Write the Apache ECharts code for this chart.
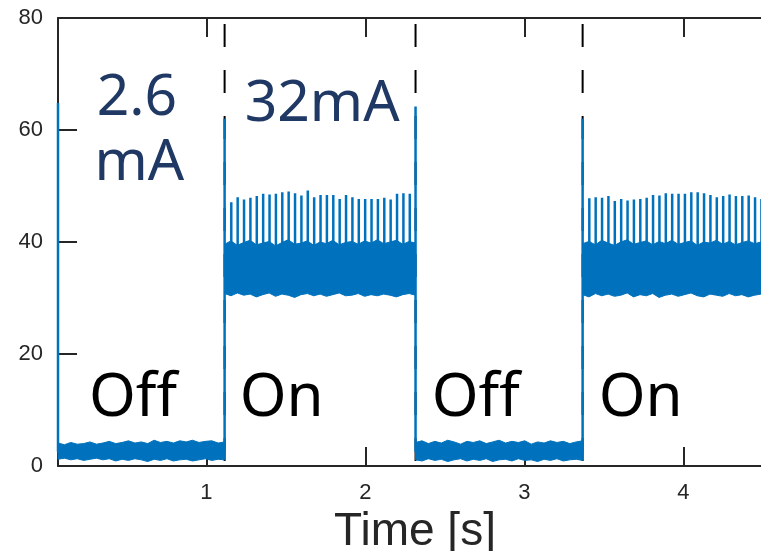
<!DOCTYPE html>
<html lang="en">
<head>
<meta charset="UTF-8">
<title>Current vs time</title>
<script src="https://cdn.jsdelivr.net/npm/echarts@6/dist/echarts.min.js"></script>
<style>
  html, body { margin: 0; padding: 0; background: #fff; }
  #main { width: 761px; height: 551px; }
</style>
</head>
<body>
<div id="main"></div>
<script>
// axis ranges and ticks
var xMin = 0.067, xMax = 4.489;
var xTicks = [1, 2, 3, 4];
var yTicks = [0, 20, 40, 60, 80];

// switching instants [s] and the spike at each switch [mA]
var switchTimes = [1.115, 2.316, 3.367];
var switchPeaks = [62, 64.2, 62];
var edgePeak = 64.8;   // switch just at the left border

// noise band edges, spread evenly over each segment
var off1Hi = [4.1, 3.8, 4.2, 3.9, 4.0, 4.3, 3.9, 4.1, 4.4, 4.0, 4.2, 4.5, 4.1, 4.3, 4.0, 4.6, 4.2, 4.4, 4.1, 4.5, 4.3, 4.6, 4.2, 4.4, 4.5, 4.1, 4.3];
var off1Lo = [1.2, 1.4, 1.1, 1.3, 1.0, 1.2, 1.4, 1.1, 1.3, 0.9, 1.2, 1.0, 1.3, 1.1, 0.8, 1.2, 1.0, 1.3, 0.9, 1.1, 1.2, 0.9, 1.1, 1.3, 1.0, 1.2, 1.1];
var on1Hi = [39.6, 40.2, 39.4, 39.9, 40.3, 39.5, 39.8, 40.1, 39.3, 39.9, 40.4, 39.6, 39.8, 40.2, 39.4, 40.0, 39.7, 40.3, 39.5, 39.9, 40.1, 39.6, 40.2, 39.8, 40.4, 39.7, 40.0, 40.3, 39.6, 40.1, 39.8];
var on1Lo = [30.8, 30.4, 30.9, 30.5, 30.7, 30.2, 30.6, 30.9, 30.3, 30.7, 30.5, 30.1, 30.6, 30.8, 30.4, 30.7, 30.3, 30.6, 30.9, 30.4, 30.5, 30.8, 30.3, 30.6, 30.4, 30.7, 30.5, 30.2, 30.6, 30.8, 30.5];
var off2Hi = [4.2, 4.5, 4.0, 4.4, 4.1, 4.6, 4.3, 3.9, 4.4, 4.2, 4.5, 4.0, 4.3, 4.6, 4.1, 4.4, 4.2, 4.5, 3.9, 4.3, 4.1, 4.5, 4.2, 4.4, 4.0, 4.3, 4.5];
var off2Lo = [1.1, 0.9, 1.3, 1.0, 1.2, 0.8, 1.1, 1.3, 0.9, 1.2, 1.0, 1.3, 0.8, 1.1, 1.2, 0.9, 1.3, 1.0, 1.1, 0.8, 1.2, 1.0, 1.3, 0.9, 1.1, 1.2, 1.0];
var on2Hi = [39.7, 40.1, 39.5, 40.3, 39.8, 39.4, 40.0, 40.4, 39.6, 39.9, 40.2, 39.5, 40.1, 39.7, 40.3, 39.6, 39.9, 40.2, 39.4, 40.0, 39.8, 40.3, 39.6, 40.1, 39.5, 39.9, 40.2, 39.7, 40.0];
var on2Lo = [30.6, 30.2, 30.8, 30.4, 30.7, 30.3, 30.5, 30.9, 30.2, 30.6, 30.4, 30.8, 30.1, 30.5, 30.7, 30.3, 30.6, 30.9, 30.4, 30.2, 30.7, 30.5, 30.3, 30.8, 30.4, 30.6, 30.2, 30.5, 30.7];

// periodic spikes while on: first spike time, period, peak heights
var spikePeriod = 0.0401;
var on1SpikeStart = 1.157;
var on1Spikes = [47.1, 48.0, 47.6, 47.9, 48.2, 48.6, 48.5, 48.6, 48.9, 49.0, 48.7, 48.3, 49.2, 48.0, 48.4, 48.4, 48.4, 47.7, 48.4, 48.0, 47.7, 47.7, 47.7, 47.7, 47.9, 47.6, 48.6, 48.7, 48.6];
var on2SpikeStart = 3.409;
var on2Spikes = [47.8, 48.0, 47.9, 48.2, 47.3, 47.7, 47.4, 47.6, 47.7, 47.9, 48.4, 48.3, 48.7, 48.6, 48.6, 48.6, 48.9, 48.9, 48.7, 48.4, 48.0, 48.2, 48.5, 48.2, 48.2, 48.3, 48.0, 47.7];

// annotations: text, x [s], y [mA]
var blueNotes = [['2.6', 0.310, 65.6], ['mA', 0.297, 54.0], ['32mA', 1.241, 64.5]];
var stateNotes = [['Off', 0.262, 12.0], ['On', 1.210, 12.0], ['Off', 2.418, 12.0], ['On', 3.468, 12.0]];

var BLUE = '#0072BD';
var AXIS = '#262626';

// one band per segment: [t0, t1, upper edge, lower edge]
var bands = [
  [xMin, switchTimes[0], off1Hi, off1Lo],
  [switchTimes[0], switchTimes[1], on1Hi, on1Lo],
  [switchTimes[1], switchTimes[2], off2Hi, off2Lo],
  [switchTimes[2], xMax, on2Hi, on2Lo]
];

function renderBand(params, api) {
  var b = bands[params.dataIndex];
  var t0 = b[0], t1 = b[1], hi = b[2], lo = b[3], n = hi.length;
  var pts = [], i, t;
  for (i = 0; i < n; i++) {
    t = t0 + (t1 - t0) * i / (n - 1);
    pts.push(api.coord([t, hi[i]]));
  }
  for (i = n - 1; i >= 0; i--) {
    t = t0 + (t1 - t0) * i / (n - 1);
    pts.push(api.coord([t, lo[i]]));
  }
  return {
    type: 'polygon',
    shape: { points: pts },
    style: { fill: BLUE, stroke: BLUE, lineWidth: 1 }
  };
}

// trace of switch edges and spikes (baseline parts hide inside the bands)
var onBase = 35, offBase = 2.6;
var trace = [[xMin, edgePeak], [xMin, offBase]];
trace.push([switchTimes[0], offBase], [switchTimes[0], switchPeaks[0]], [switchTimes[0], onBase]);
on1Spikes.forEach(function (p, i) {
  var t = on1SpikeStart + i * spikePeriod;
  trace.push([t, onBase], [t, p], [t, onBase]);
});
trace.push([switchTimes[1], onBase], [switchTimes[1], switchPeaks[1]], [switchTimes[1], offBase]);
trace.push([switchTimes[2], offBase], [switchTimes[2], switchPeaks[2]], [switchTimes[2], onBase]);
on2Spikes.forEach(function (p, i) {
  var t = on2SpikeStart + i * spikePeriod;
  trace.push([t, onBase], [t, p], [t, onBase]);
});
trace.push([xMax, onBase]);

var series = [];
switchTimes.forEach(function (t) {
  series.push({
    type: 'line', data: [[t, 80], [t, 0]], symbol: 'none', z: 1,
    lineStyle: { color: '#000', width: 2, type: [23, 23], dashOffset: 40 }
  });
});
series.push({
  type: 'custom', z: 3, silent: true,
  renderItem: renderBand,
  encode: { x: [0, 1], y: [2, 3] },
  data: bands.map(function (b) {
    return [b[0], b[1], Math.min.apply(null, b[3]), Math.max.apply(null, b[2])];
  })
});
series.push({
  type: 'line', data: trace, symbol: 'none', z: 4,
  lineStyle: { color: BLUE, width: 2.5 }
});

function noteSeries(notes, color, size, family) {
  return {
    type: 'scatter', symbolSize: 0, z: 10, silent: true,
    itemStyle: { opacity: 1 },
    data: notes.map(function (d) { return { name: d[0], value: [d[1], d[2]] }; }),
    label: {
      show: true, position: 'inside', formatter: '{b}',
      align: 'left', verticalAlign: 'middle',
      color: color, fontSize: size, fontFamily: family
    }
  };
}
series.push(noteSeries(blueNotes, '#1F3864', 57, 'Noto Sans'));
series.push(noteSeries(stateNotes, '#000000', 60, 'Noto Sans'));

var tickStyle = { color: AXIS, width: 2 };
var option = {
  animation: false,
  backgroundColor: '#ffffff',
  grid: { left: 58, right: 0, top: 18, bottom: 85, outerBoundsMode: 'none' },
  xAxis: [{
    type: 'value', min: xMin, max: xMax,
    name: 'Time [s]', nameLocation: 'middle', nameGap: 35,
    nameTextStyle: { fontSize: 46, color: AXIS, fontFamily: 'Liberation Sans', padding: [0, 0, 0, 11] },
    axisLine: { show: true, onZero: false, lineStyle: tickStyle },
    axisTick: { show: true, inside: true, length: 19, customValues: xTicks, lineStyle: tickStyle },
    axisLabel: { show: true, customValues: xTicks, margin: 16, fontSize: 22, color: AXIS, fontFamily: 'Liberation Sans' },
    splitLine: { show: false }
  }, {
    type: 'value', position: 'top', min: xMin, max: xMax,
    axisLine: { show: true, onZero: false, lineStyle: tickStyle },
    axisTick: { show: true, inside: true, length: 19, customValues: xTicks, lineStyle: tickStyle },
    axisLabel: { show: false },
    splitLine: { show: false }
  }],
  yAxis: {
    type: 'value', min: yTicks[0], max: yTicks[yTicks.length - 1], interval: 20,
    axisLine: { show: true, lineStyle: tickStyle },
    axisTick: { show: true, inside: true, length: 19, lineStyle: tickStyle },
    axisLabel: { margin: 15, fontSize: 22, color: AXIS, fontFamily: 'Liberation Sans' },
    splitLine: { show: false }
  },
  series: series
};

var chart = echarts.init(document.getElementById('main'), null, { renderer: 'canvas' });
chart.setOption(option);
</script>
</body>
</html>
